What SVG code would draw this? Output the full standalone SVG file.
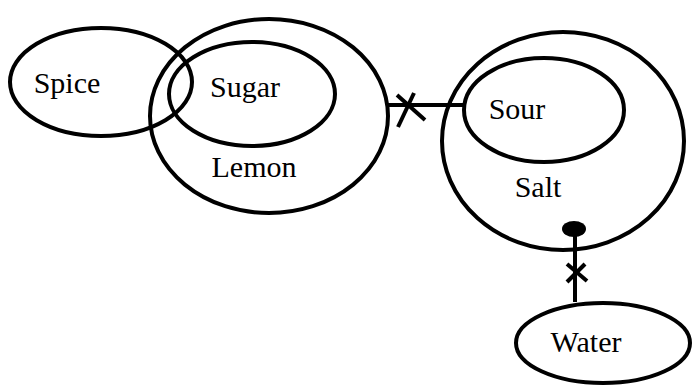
<svg xmlns="http://www.w3.org/2000/svg" width="692" height="387" viewBox="0 0 692 387">
<style>
.n{fill:none;stroke:#000;stroke-width:4}
.c{fill:none;stroke:#000;stroke-width:4}
text{font-family:"Liberation Serif","DejaVu Serif",serif;font-size:30px;fill:#000;text-anchor:middle}
</style>
<rect width="692" height="387" fill="#fff"/>
<g id="connectors">
<line class="c" x1="388" y1="105" x2="463" y2="105"/>
<line class="c" x1="397" y1="95" x2="425" y2="120"/>
<line class="c" x1="414" y1="93" x2="398" y2="127"/>
<line class="c" x1="575" y1="229" x2="575" y2="302"/>
<line class="c" x1="567" y1="264" x2="587" y2="281"/>
<line class="c" x1="585" y1="264" x2="567" y2="282"/>
<ellipse cx="574" cy="229" rx="12" ry="8" fill="#000"/>
</g>
<g id="lemon"><ellipse class="n" cx="269" cy="116" rx="119" ry="97"/><text x="254" y="177">Lemon</text></g>
<g id="sugar"><ellipse class="n" cx="252" cy="94" rx="83" ry="52"/><text x="245" y="97">Sugar</text></g>
<g id="spice"><ellipse class="n" cx="101" cy="82" rx="91" ry="54"/><text x="67" y="93">Spice</text></g>
<g id="salt"><ellipse class="n" cx="563" cy="141" rx="121" ry="109"/><text x="538" y="197">Salt</text></g>
<g id="sour"><ellipse class="n" cx="544" cy="110" rx="80" ry="52"/><text x="517" y="119">Sour</text></g>
<g id="water"><ellipse class="n" cx="603" cy="343" rx="87" ry="40"/><text x="586" y="352">Water</text></g>
</svg>
